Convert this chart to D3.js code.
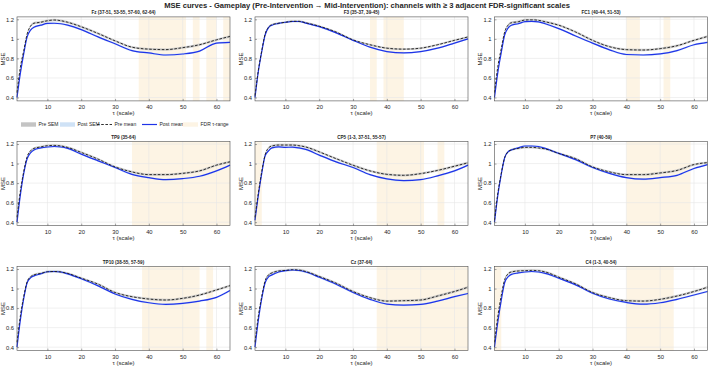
<!DOCTYPE html>
<html>
<head>
<meta charset="utf-8">
<script src="https://cdn.jsdelivr.net/npm/d3@7"></script>
<style>
  body { margin: 0; background: #fff; }
  svg { display: block; font-family: "Liberation Sans", Arial, sans-serif; }
</style>
</head>
<body>
<svg id="chart" width="708" height="368"></svg>
<script>
const scales = [1, 2, 3, 4, 5, 6, 8, 10, 12, 14, 16, 20, 25, 30, 35, 40, 45, 50, 55, 60, 64];

const channels = ["Fz", "F3", "FC1", "TP9", "CP5", "P7", "TP10", "Cz", "C4"];

// FDR-significant tau ranges per channel
const sigRanges = [
  [[37, 51], [53, 55], [57, 60], [62, 64]],
  [[35, 37], [39, 45]],
  [[40, 44], [51, 53]],
  [[35, 64]],
  [[1, 3], [37, 51], [55, 57]],
  [[40, 59]],
  [[38, 55], [57, 59]],
  [[37, 64]],
  [[1, 3], [40, 54]]
];

const preMean = [
  [0.45, 0.71, 0.88, 1.05, 1.13, 1.16, 1.17, 1.186, 1.193, 1.186, 1.17, 1.124, 1.055, 0.98, 0.915, 0.895, 0.89, 0.91, 0.94, 0.99, 1.025],
  [0.42, 0.68, 0.88, 1.05, 1.12, 1.145, 1.16, 1.17, 1.18, 1.18, 1.165, 1.13, 1.07, 0.99, 0.94, 0.905, 0.895, 0.905, 0.94, 0.985, 1.02],
  [0.45, 0.72, 0.9, 1.07, 1.14, 1.165, 1.175, 1.193, 1.195, 1.19, 1.175, 1.14, 1.07, 0.985, 0.92, 0.89, 0.886, 0.9, 0.93, 0.985, 1.025],
  [0.45, 0.72, 0.92, 1.07, 1.13, 1.155, 1.17, 1.183, 1.186, 1.18, 1.165, 1.114, 1.045, 0.966, 0.915, 0.887, 0.887, 0.9, 0.925, 0.984, 1.018],
  [0.45, 0.7, 0.92, 1.09, 1.16, 1.18, 1.19, 1.19, 1.19, 1.183, 1.17, 1.12, 1.05, 0.983, 0.925, 0.89, 0.88, 0.897, 0.93, 0.973, 1.008],
  [0.42, 0.7, 0.9, 1.06, 1.12, 1.14, 1.155, 1.166, 1.166, 1.16, 1.15, 1.104, 1.05, 0.966, 0.915, 0.887, 0.887, 0.904, 0.93, 0.99, 1.01],
  [0.45, 0.72, 0.92, 1.07, 1.12, 1.14, 1.155, 1.172, 1.175, 1.17, 1.155, 1.107, 1.045, 0.96, 0.917, 0.893, 0.883, 0.9, 0.934, 0.986, 1.03],
  [0.45, 0.72, 0.92, 1.08, 1.14, 1.16, 1.18, 1.186, 1.193, 1.19, 1.175, 1.124, 1.055, 0.97, 0.907, 0.872, 0.876, 0.883, 0.924, 0.97, 1.014],
  [0.45, 0.72, 0.93, 1.09, 1.15, 1.17, 1.18, 1.183, 1.186, 1.183, 1.17, 1.117, 1.048, 0.96, 0.907, 0.876, 0.872, 0.89, 0.924, 0.97, 1.014]
];

const postMean = [
  [0.40, 0.65, 0.85, 1.02, 1.09, 1.12, 1.14, 1.158, 1.16, 1.155, 1.14, 1.095, 1.02, 0.95, 0.88, 0.856, 0.835, 0.845, 0.875, 0.957, 0.965],
  [0.40, 0.67, 0.87, 1.04, 1.115, 1.14, 1.158, 1.17, 1.178, 1.178, 1.162, 1.125, 1.062, 0.985, 0.915, 0.87, 0.856, 0.87, 0.905, 0.957, 1.0],
  [0.40, 0.66, 0.86, 1.04, 1.11, 1.14, 1.155, 1.176, 1.18, 1.175, 1.155, 1.105, 1.03, 0.957, 0.888, 0.84, 0.835, 0.846, 0.88, 0.94, 0.965],
  [0.40, 0.68, 0.9, 1.05, 1.11, 1.14, 1.16, 1.17, 1.175, 1.17, 1.155, 1.097, 1.028, 0.96, 0.89, 0.856, 0.836, 0.846, 0.87, 0.925, 0.984],
  [0.42, 0.68, 0.9, 1.08, 1.13, 1.16, 1.17, 1.166, 1.168, 1.16, 1.145, 1.087, 1.018, 0.96, 0.887, 0.843, 0.826, 0.836, 0.874, 0.925, 0.984],
  [0.40, 0.68, 0.89, 1.06, 1.12, 1.14, 1.16, 1.18, 1.18, 1.175, 1.155, 1.104, 1.04, 0.96, 0.9, 0.856, 0.84, 0.856, 0.88, 0.95, 0.99],
  [0.40, 0.68, 0.9, 1.06, 1.11, 1.13, 1.15, 1.172, 1.175, 1.17, 1.15, 1.1, 1.028, 0.945, 0.89, 0.855, 0.838, 0.848, 0.872, 0.91, 0.98],
  [0.40, 0.68, 0.9, 1.06, 1.12, 1.14, 1.17, 1.183, 1.19, 1.185, 1.17, 1.117, 1.045, 0.96, 0.89, 0.841, 0.83, 0.838, 0.872, 0.917, 0.95],
  [0.40, 0.66, 0.88, 1.06, 1.12, 1.145, 1.16, 1.17, 1.175, 1.17, 1.155, 1.107, 1.038, 0.952, 0.893, 0.858, 0.84, 0.855, 0.89, 0.934, 0.97]
];

// SEM half-widths (approx, constant per channel)
const preSem  = [0.012, 0.01, 0.012, 0.012, 0.012, 0.012, 0.012, 0.012, 0.012];
const postSem = [0.01, 0.008, 0.01, 0.01, 0.01, 0.01, 0.01, 0.01, 0.01];

const xTicks = [10, 20, 30, 40, 50, 60];
const yTicks = [0.4, 0.6, 0.8, 1, 1.2];

const colors = {
  preSem: "#c4c4c4",
  postSem: "#cfe2f6",
  pre: "#1a1a1a",
  post: "#1f33e8",
  fdr: "#fdf4e4",
  grid: "#e6e6e6",
  axis: "#4d4d4d",
  text: "#262626"
};

const svg = d3.select("#chart");

// layout
const colLeft = [17, 255, 494.5];
const rowTop = [16.9, 141.6, 266.6];
const pw = 213, ph = 84;

const x = d3.scaleLinear().domain([1, 64]);
const y = d3.scaleLinear().domain([0.365, 1.225]);

// main title
svg.append("text")
  .attr("x", 367).attr("y", 8)
  .attr("text-anchor", "middle")
  .attr("font-size", 7.6).attr("font-weight", "bold")
  .attr("fill", colors.text)
  .text("MSE curves - Gameplay (Pre-Intervention\u2009\u2192 Mid-Intervention): channels with \u2265 3 adjacent FDR-significant scales");

channels.forEach((ch, i) => {
  const col = i % 3, row = Math.floor(i / 3);
  x.range([0, pw]);
  y.range([ph, 0]);

  const g = svg.append("g")
    .attr("transform", `translate(${colLeft[col]},${rowTop[row]})`);

  // FDR shading
  g.selectAll(".fdr")
    .data(sigRanges[i])
    .enter()
    .append("rect")
    .attr("x", d => x(d[0]))
    .attr("y", 0)
    .attr("width", d => x(d[1]) - x(d[0]))
    .attr("height", ph)
    .attr("fill", colors.fdr);

  // grid
  g.selectAll(".gx")
    .data(xTicks)
    .enter()
    .append("line")
    .attr("x1", d => x(d)).attr("x2", d => x(d))
    .attr("y1", 0).attr("y2", ph)
    .attr("stroke", colors.grid).attr("stroke-width", 0.6);
  g.selectAll(".gy")
    .data(yTicks)
    .enter()
    .append("line")
    .attr("x1", 0).attr("x2", pw)
    .attr("y1", d => y(d)).attr("y2", d => y(d))
    .attr("stroke", colors.grid).attr("stroke-width", 0.6);

  const pts = scales.map((s, k) => ({ s, pre: preMean[i][k], post: postMean[i][k] }));

  const band = (key, sem) => d3.area()
    .x(d => x(d.s))
    .y0(d => y(d[key] - sem))
    .y1(d => y(d[key] + sem))
    .curve(d3.curveMonotoneX);
  const line = key => d3.line()
    .x(d => x(d.s))
    .y(d => y(d[key]))
    .curve(d3.curveMonotoneX);

  g.append("path").datum(pts)
    .attr("d", band("pre", preSem[i]))
    .attr("fill", colors.preSem).attr("opacity", 0.85);
  g.append("path").datum(pts)
    .attr("d", band("post", postSem[i]))
    .attr("fill", colors.postSem).attr("opacity", 0.9);

  g.append("path").datum(pts)
    .attr("d", line("post"))
    .attr("fill", "none")
    .attr("stroke", colors.post).attr("stroke-width", 1.2);
  g.append("path").datum(pts)
    .attr("d", line("pre"))
    .attr("fill", "none")
    .attr("stroke", colors.pre).attr("stroke-width", 0.9)
    .attr("stroke-dasharray", "2.6,1.6");

  // axes box
  g.append("rect")
    .attr("width", pw).attr("height", ph)
    .attr("fill", "none")
    .attr("stroke", colors.axis).attr("stroke-width", 0.6);

  // x axis
  const xa = g.append("g")
    .attr("transform", `translate(0,${ph})`)
    .call(d3.axisBottom(x).tickValues(xTicks).tickSizeInner(-2).tickSizeOuter(0).tickPadding(4));
  const ya = g.append("g")
    .call(d3.axisLeft(y).tickValues(yTicks).tickFormat(d3.format("~g")).tickSizeInner(-2).tickSizeOuter(0).tickPadding(3));
  [xa, ya].forEach(a => {
    a.select(".domain").remove();
    a.selectAll("line").attr("stroke", colors.axis).attr("stroke-width", 0.5);
    a.selectAll("text")
      .attr("font-size", 5.8)
      .attr("font-family", "'Liberation Sans', Arial, sans-serif")
      .attr("fill", colors.text);
  });

  // labels
  g.append("text")
    .attr("x", pw / 2).attr("y", ph + 14.5)
    .attr("text-anchor", "middle")
    .attr("font-size", 6).attr("fill", colors.text)
    .text("\u03c4 (scale)");
  g.append("text")
    .attr("transform", `translate(-12.5,${ph / 2}) rotate(-90)`)
    .attr("text-anchor", "middle")
    .attr("font-size", 6).attr("fill", colors.text)
    .text("MSE");

  // panel title
  g.append("text")
    .attr("x", pw / 2).attr("y", -2.6)
    .attr("text-anchor", "middle")
    .attr("font-size", 4.6).attr("font-weight", "bold")
    .attr("fill", colors.text)
    .text(`${ch}  (${sigRanges[i].map(r => r[0] + "-" + r[1]).join(", ")})`);
});

// legend (under first panel)
const legend = svg.append("g").attr("transform", "translate(0,124.5)");
const legendItems = [
  { label: "Pre SEM", kind: "patch", color: colors.preSem, x: 21 },
  { label: "Post SEM", kind: "patch", color: colors.postSem, x: 60 },
  { label: "Pre mean", kind: "dash", color: colors.pre, x: 97 },
  { label: "Post mean", kind: "line", color: colors.post, x: 142 },
  { label: "FDR \u03c4-range", kind: "patch", color: colors.fdr, x: 183 }
];
legendItems.forEach(it => {
  if (it.kind === "patch") {
    legend.append("rect")
      .attr("x", it.x).attr("y", -2.2)
      .attr("width", 15).attr("height", 4.4)
      .attr("fill", it.color);
  } else {
    legend.append("line")
      .attr("x1", it.x).attr("x2", it.x + 15)
      .attr("y1", 0).attr("y2", 0)
      .attr("stroke", it.color)
      .attr("stroke-width", it.kind === "dash" ? 0.9 : 1.2)
      .attr("stroke-dasharray", it.kind === "dash" ? "2.6,1.6" : null);
  }
  legend.append("text")
    .attr("x", it.x + 17.5).attr("y", 1.8)
    .attr("font-size", 5)
    .attr("fill", colors.text)
    .text(it.label);
});
</script>
</body>
</html>
